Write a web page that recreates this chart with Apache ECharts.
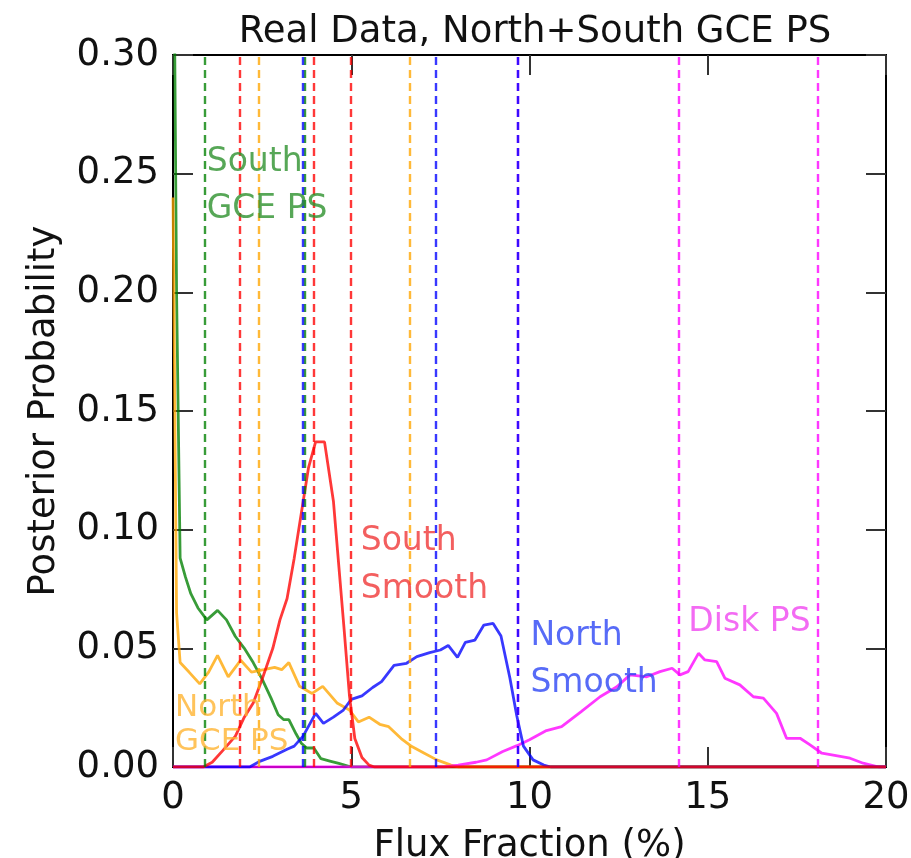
<!DOCTYPE html>
<html>
<head>
<meta charset="utf-8">
<script src="https://cdn.jsdelivr.net/npm/echarts@6/dist/echarts.min.js"></script>
<style>
html,body{margin:0;padding:0;background:#fff;}
#c{width:911px;height:858px;}
</style>
</head>
<body>
<div id="c"></div>
<script>
// ---- data ----
const titleText = 'Real Data, North+South GCE PS';
const xName = 'Flux Fraction (%)';
const yName = 'Posterior Probability';

const southPsX = [0.0, 0.1, 0.2, 0.35, 0.5, 0.7, 0.95, 1.25, 1.5, 1.75, 2.0, 2.25, 2.5, 2.75, 2.95, 3.1, 3.25, 3.45, 3.6, 3.75, 3.95, 4.15, 4.4, 4.65, 5.0, 20];
const southPsY = [0.40, 0.20, 0.088, 0.080, 0.073, 0.067, 0.062, 0.066, 0.062, 0.055, 0.050, 0.044, 0.037, 0.029, 0.022, 0.020, 0.020, 0.014, 0.010, 0.008, 0.008, 0.0035, 0.0025, 0.0015, 0.0, 0.0];

const northPsX = [0.0, 0.1, 0.2, 0.45, 0.75, 1.0, 1.25, 1.55, 1.9, 2.2, 2.55, 2.85, 3.05, 3.25, 3.55, 3.9, 4.2, 4.6, 4.95, 5.2, 5.5, 5.8, 6.05, 6.4, 6.7, 7.05, 7.4, 7.8, 8.0, 20];
const northPsY = [0.24, 0.065, 0.044, 0.040, 0.035, 0.040, 0.047, 0.038, 0.045, 0.040, 0.041, 0.042, 0.041, 0.044, 0.034, 0.031, 0.034, 0.027, 0.024, 0.019, 0.021, 0.018, 0.017, 0.012, 0.0086, 0.0058, 0.003, 0.0008, 0.0, 0.0];

const southSmX = [0, 0.85, 1.1, 1.4, 1.75, 2.0, 2.25, 2.5, 2.8, 3.0, 3.2, 3.4, 3.6, 3.8, 4.0, 4.25, 4.5, 4.65, 4.8, 4.95, 5.1, 5.3, 5.5, 5.65, 20];
const southSmY = [0, 0, 0.002, 0.007, 0.013, 0.021, 0.027, 0.037, 0.050, 0.062, 0.071, 0.088, 0.107, 0.126, 0.137, 0.137, 0.112, 0.085, 0.058, 0.030, 0.012, 0.004, 0.0008, 0, 0];

const northSmX = [0, 2.15, 2.45, 2.8, 3.2, 3.4, 3.65, 4.0, 4.22, 4.5, 4.78, 5.0, 5.3, 5.6, 5.85, 6.2, 6.55, 6.84, 7.2, 7.5, 7.72, 7.98, 8.2, 8.47, 8.72, 8.98, 9.2, 9.45, 9.64, 9.83, 10.1, 10.4, 10.6, 20];
const northSmY = [0, 0, 0.0025, 0.0045, 0.0075, 0.0088, 0.013, 0.0226, 0.0184, 0.021, 0.024, 0.0285, 0.030, 0.0335, 0.036, 0.0428, 0.0437, 0.0465, 0.0482, 0.0493, 0.0512, 0.0462, 0.0525, 0.0535, 0.0598, 0.0605, 0.0552, 0.0375, 0.0218, 0.0088, 0.003, 0.0008, 0, 0];

const diskX = [0, 7.6, 8.0, 8.5, 8.8, 9.25, 9.65, 10.0, 10.45, 10.9, 11.45, 11.98, 12.45, 12.82, 13.29, 13.66, 14.0, 14.22, 14.45, 14.74, 14.92, 15.25, 15.48, 15.9, 16.28, 16.56, 16.93, 17.21, 17.59, 17.87, 18.2, 18.52, 18.99, 19.36, 19.8, 20];
const diskY = [0, 0, 0.0008, 0.002, 0.003, 0.0065, 0.009, 0.0115, 0.0152, 0.017, 0.0233, 0.0296, 0.0338, 0.0388, 0.038, 0.0402, 0.0416, 0.0388, 0.0402, 0.0479, 0.0451, 0.0444, 0.0374, 0.0346, 0.0296, 0.029, 0.0226, 0.0121, 0.0121, 0.0093, 0.0058, 0.005, 0.0037, 0.0016, 0.0, 0.0];

// vertical dashed reference lines (x positions)
const southPsLines = [0.88, 3.69];
const northPsLines = [2.41, 6.63];
const southSmLines = [1.86, 3.94, 4.99];
const northSmLines = [3.63, 7.38, 9.67];
const diskLines = [9.67, 14.20, 18.08];

// text annotations: [text, x, y] of top-left of the text box
const southPsLabel = ['South\nGCE PS', 0.96, 0.2646];
const northPsLabel = ['North\nGCE PS', 0.07, 0.0319];
const southSmLabel = ['South\nSmooth', 5.28, 0.105];
const northSmLabel = ['North\nSmooth', 10.04, 0.0649];
const diskLabel = ['Disk PS', 14.47, 0.0708];

const xTicks = [0, 5, 10, 15, 20];
const yTicks = [0.00, 0.05, 0.10, 0.15, 0.20, 0.25, 0.30];

// ---- styling ----
const FONT = 'DejaVu Sans';
const C = {
  green: 'rgba(0,128,0,0.78)',
  orange: 'rgba(255,165,0,0.78)',
  red: 'rgba(255,0,0,0.78)',
  blue: 'rgba(0,0,255,0.78)',
  magenta: 'rgba(255,0,255,0.78)'
};
const T = {
  green: 'rgb(45,145,45)',
  orange: 'rgb(255,180,50)',
  red: 'rgb(240,55,55)',
  blue: 'rgb(45,70,245)',
  magenta: 'rgb(240,70,240)'
};

function zip(xs, ys) { return xs.map((x, i) => [x, ys[i]]); }

function curve(name, xs, ys, color, lines) {
  return {
    name: name, type: 'line', data: zip(xs, ys),
    showSymbol: false, symbol: 'none', clip: true, silent: true,
    lineStyle: { color: color, width: 2.8 },
    itemStyle: { color: color },
    markLine: {
      silent: true, symbol: 'none', animation: false,
      label: { show: false },
      lineStyle: { color: color, width: 2.4, type: [8, 5] },
      emphasis: { disabled: true },
      data: lines.map(v => ({ xAxis: v }))
    }
  };
}

function annot(lab, color, fontSize, lineHeight) {
  return {
    type: 'scatter', data: [[lab[1], lab[2]]], symbolSize: 1, silent: true,
    itemStyle: { color: 'rgba(0,0,0,0)' }, z: 10,
    label: {
      show: true, position: [0, 0], align: 'left', verticalAlign: 'top',
      formatter: () => lab[0], color: color, fontFamily: FONT,
      fontSize: fontSize, lineHeight: lineHeight
    }
  };
}

const tickStyle = { inside: true, length: 20, lineStyle: { color: '#333', width: 2 } };

const chart = echarts.init(document.getElementById('c'), null, { renderer: 'canvas' });
chart.setOption({
  animation: false,
  backgroundColor: '#fff',
  title: {
    text: titleText, left: 530, top: 9, textAlign: 'center',
    textStyle: { fontFamily: FONT, fontSize: 37, fontWeight: 'normal', color: '#111' }
  },
  grid: { left: 173, right: 25, top: 55, bottom: 91, outerBoundsMode: 'none', containLabel: false, show: true, borderColor: '#000', borderWidth: 2, backgroundColor: 'transparent' },
  xAxis: [{
    type: 'value', min: xTicks[0], max: xTicks[xTicks.length - 1], interval: 5,
    name: xName, nameLocation: 'middle', nameGap: 61,
    nameTextStyle: { fontFamily: FONT, fontSize: 37, color: '#111' },
    axisLine: { show: true, onZero: false, lineStyle: { color: '#000', width: 2 } },
    axisTick: tickStyle, splitLine: { show: false },
    axisLabel: { fontFamily: FONT, fontSize: 37, color: '#111', margin: 13 }
  }, {
    type: 'value', position: 'top', min: xTicks[0], max: xTicks[xTicks.length - 1], interval: 5,
    axisLine: { show: false, onZero: false }, axisTick: tickStyle, splitLine: { show: false },
    axisLabel: { show: false }
  }],
  yAxis: [{
    type: 'value', min: yTicks[0], max: yTicks[yTicks.length - 1], interval: 0.05,
    name: yName, nameLocation: 'middle', nameGap: 110, nameRotate: 90,
    nameTextStyle: { fontFamily: FONT, fontSize: 37, color: '#111' },
    axisLine: { show: true, onZero: false, lineStyle: { color: '#000', width: 2 } },
    axisTick: tickStyle, splitLine: { show: false },
    axisLabel: { fontFamily: FONT, fontSize: 37, color: '#111', margin: 14, formatter: v => v.toFixed(2) }
  }, {
    type: 'value', position: 'right', min: yTicks[0], max: yTicks[yTicks.length - 1], interval: 0.05,
    axisLine: { show: false, onZero: false }, axisTick: tickStyle, splitLine: { show: false },
    axisLabel: { show: false }
  }],
  series: [
    curve('South GCE PS', southPsX, southPsY, C.green, southPsLines),
    curve('North GCE PS', northPsX, northPsY, C.orange, northPsLines),
    curve('Disk PS', diskX, diskY, C.magenta, diskLines),
    curve('North Smooth', northSmX, northSmY, C.blue, northSmLines),
    curve('South Smooth', southSmX, southSmY, C.red, southSmLines),
    annot(southPsLabel, T.green, 33, 47),
    annot(northPsLabel, T.orange, 31, 34),
    annot(southSmLabel, T.red, 33, 48),
    annot(northSmLabel, T.blue, 33, 47),
    annot(diskLabel, T.magenta, 33, 47)
  ]
});
</script>
</body>
</html>
